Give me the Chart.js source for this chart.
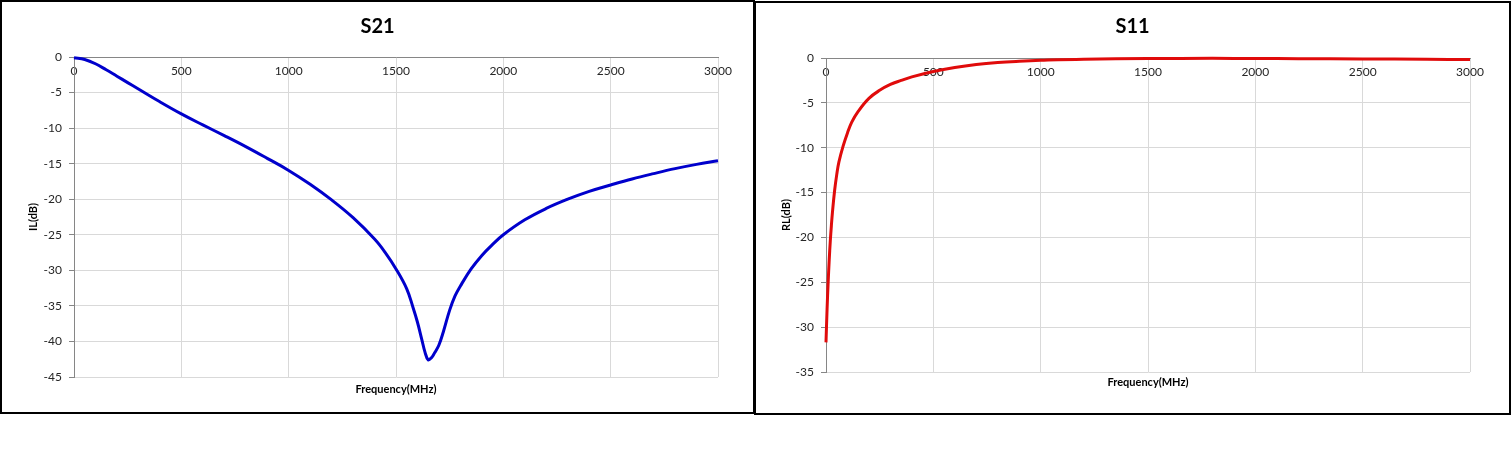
<!DOCTYPE html>
<html>
<head>
<meta charset="utf-8">
<script src="https://cdn.jsdelivr.net/npm/chart.js@4.4.1/dist/chart.umd.min.js"></script>
<style>
    body { margin: 0; background: #fff; }
    .marco { position: absolute; border: 2px solid #000; box-sizing: border-box; background: #fff; }
    #marcoS21 { left: 0; top: 0; width: 755px; height: 414px; }
    #marcoS11 { left: 754px; top: 1px; width: 757px; height: 414px; }
    canvas { display: block; }
</style>
</head>
<body>
<div class="marco" id="marcoS21"><canvas id="chartS21" width="751" height="410"></canvas></div>
<div class="marco" id="marcoS11"><canvas id="chartS11" width="753" height="410"></canvas></div>
<script>
'use strict';

// ── Datos ─────────────────────────────────────────────────────
const frecuenciaTicks = [0, 500, 1000, 1500, 2000, 2500, 3000];

const s21Frecuencia = [0, 50, 100, 150, 200, 250, 300, 400, 500, 600, 700, 800, 900, 1000,
    1100, 1200, 1300, 1400, 1450, 1500, 1550, 1580, 1600, 1620, 1635, 1650, 1665, 1680, 1700,
    1720, 1750, 1775, 1800, 1850, 1900, 1950, 2000, 2100, 2200, 2300, 2400, 2500, 2600, 2700,
    2800, 2900, 3000];
const s21Perdida = [-0.1, -0.35, -0.95, -1.8, -2.7, -3.6, -4.5, -6.3, -8.0, -9.55, -11.05, -12.6, -14.25, -15.95,
    -17.9, -20.1, -22.6, -25.6, -27.5, -29.8, -32.6, -35.3, -37.3, -39.7, -41.5, -42.6, -42.3, -41.6, -40.5,
    -38.7, -35.6, -33.6, -32.2, -29.8, -27.9, -26.35, -25.0, -22.9, -21.3, -20.0, -18.9, -18.0, -17.15, -16.4,
    -15.7, -15.1, -14.6];

const s11Frecuencia = [0, 5, 10, 15, 20, 25, 30, 40, 50, 60, 80, 100, 120, 150, 200, 250, 300, 350, 400, 500,
    600, 700, 800, 900, 1000, 1200, 1500, 1800, 2000, 2200, 2500, 2800, 3000];
const s11Retorno = [-31.7, -28.0, -25.0, -22.5, -20.4, -18.7, -17.2, -14.8, -13.0, -11.6, -9.8, -8.35, -7.15, -5.95, -4.5,
    -3.6, -2.95, -2.5, -2.1, -1.5, -1.05, -0.72, -0.5, -0.36, -0.26, -0.13, -0.06, -0.04, -0.05, -0.07, -0.1, -0.15, -0.18];

const FUENTE = 'Lato';

function unirPuntos(xs, ys) {
    return xs.map((x, i) => ({ x: x, y: ys[i] }));
}

function crearGrafica(id, cfg) {
    const ctx = document.getElementById(id).getContext('2d');
    return new Chart(ctx, {
        type: 'line',
        data: {
            datasets: [{
                data: unirPuntos(cfg.xs, cfg.ys),
                borderColor: cfg.color,
                borderWidth: 3,
                pointRadius: 0,
                tension: 0.4,
                fill: false,
                clip: 4
            }]
        },
        options: {
            responsive: false,
            animation: false,
            layout: { padding: 0 },
            plugins: {
                legend: { display: false },
                tooltip: { enabled: false },
                title: {
                    display: true,
                    text: cfg.titulo,
                    color: '#000',
                    font: { family: FUENTE, size: 20, weight: 'bold' },
                    padding: { top: cfg.tituloArriba, bottom: 55 - 24 - cfg.tituloArriba }
                }
            },
            scales: {
                x: {
                    type: 'linear',
                    position: { y: 0 },
                    min: 0,
                    max: 3000,
                    afterFit: s => { s.height = 0; },
                    afterBuildTicks: s => { s.ticks = frecuenciaTicks.map(v => ({ value: v })); },
                    grid: { color: '#d9d9d9', drawTicks: false },
                    border: { color: '#868686', width: 1 },
                    ticks: {
                        autoSkip: false,
                        maxRotation: 0,
                        padding: 7,
                        color: '#262626',
                        font: { family: FUENTE, size: 12 },
                        callback: v => String(v)
                    }
                },
                xTitulo: {
                    type: 'linear',
                    position: 'bottom',
                    min: 0,
                    max: 3000,
                    afterFit: s => { s.height = cfg.abajo; },
                    grid: { display: false },
                    border: { display: false },
                    ticks: { display: false },
                    title: {
                        display: true,
                        text: 'Frequency(MHz)',
                        color: '#000',
                        font: { family: FUENTE, size: 11, weight: 'bold' },
                        padding: { top: 0, bottom: cfg.tituloXAbajo }
                    }
                },
                y: {
                    type: 'linear',
                    position: 'left',
                    min: cfg.minY,
                    max: 0,
                    afterFit: s => { s.width = cfg.ancho; },
                    grid: { color: '#d9d9d9', tickColor: '#868686', tickLength: 5 },
                    border: { color: '#868686', width: 1 },
                    ticks: {
                        stepSize: 5,
                        padding: 7,
                        color: '#262626',
                        font: { family: FUENTE, size: 12 }
                    },
                    title: {
                        display: true,
                        text: cfg.tituloY,
                        color: '#000',
                        font: { family: FUENTE, size: 11, weight: 'bold' },
                        padding: { top: cfg.tituloYIzq, bottom: 0 }
                    }
                },
                // margen derecho vacío, así el título queda centrado en el marco
                yMargen: {
                    type: 'linear',
                    position: 'right',
                    min: cfg.minY,
                    max: 0,
                    afterFit: s => { s.width = cfg.derecha; },
                    grid: { display: false },
                    border: { display: false },
                    ticks: { display: false }
                }
            }
        }
    });
}

document.addEventListener('DOMContentLoaded', () => {
    crearGrafica('chartS21', {
        titulo: 'S21', tituloY: 'IL(dB)', color: '#0000cc',
        xs: s21Frecuencia, ys: s21Perdida, minY: -45,
        ancho: 72, derecha: 35, abajo: 35,
        tituloArriba: 13, tituloXAbajo: 16, tituloYIzq: 25
    });
    crearGrafica('chartS11', {
        titulo: 'S11', tituloY: 'RL(dB)', color: '#e00b0b',
        xs: s11Frecuencia, ys: s11Retorno, minY: -35,
        ancho: 70, derecha: 39, abajo: 41,
        tituloArriba: 12, tituloXAbajo: 24, tituloYIzq: 24
    });
});
</script>
</body>
</html>
